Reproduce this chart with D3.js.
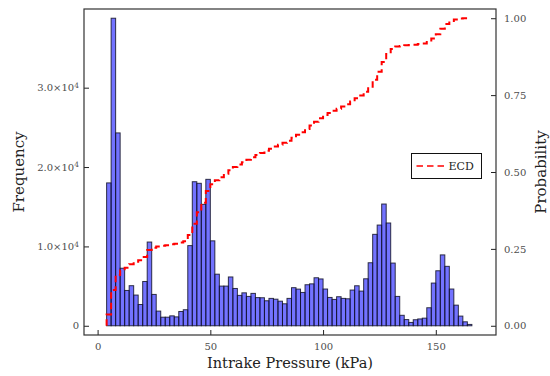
<!DOCTYPE html>
<html>
<head>
<meta charset="utf-8">
<script src="https://cdn.jsdelivr.net/npm/d3@7"></script>
<style>
  body { margin: 0; background: #fff; }
</style>
</head>
<body>
<div id="chart"></div>
<script>
// histogram bins (lower edge, kPa), bin width 2 kPa
const binStart = [4, 6, 8, 10, 12, 14, 16, 18, 20, 22, 24, 26, 28, 30, 32, 34, 36, 38, 40, 42,
    44, 46, 48, 50, 52, 54, 56, 58, 60, 62, 64, 66, 68, 70, 72, 74, 76, 78, 80, 82,
    84, 86, 88, 90, 92, 94, 96, 98, 100, 102, 104, 106, 108, 110, 112, 114, 116, 118, 120, 122,
    124, 126, 128, 130, 132, 134, 136, 138, 140, 142, 144, 146, 148, 150, 152, 154, 156, 158, 160, 162, 164];
const binWidth = 2;

// frequency per bin
const counts = [18000, 38750, 24300, 7250, 4450, 5050, 3870, 2680, 5580, 10550,
    3950, 1850, 1080, 1080, 1250, 1120, 1800, 2020, 10100, 18150,
    17950, 15300, 18450, 10700, 6500, 5000, 5000, 6150, 4700, 3830,
    4150, 3700, 4080, 3550, 3530, 3150, 3450, 3350, 3100, 2770,
    3450, 4800, 4620, 4200, 5170, 5280, 6050, 5900, 4630, 3570,
    3320, 3660, 3450, 3400, 4500, 5040, 4370, 5920, 7940, 11520,
    12690, 15340, 12950, 7900, 3700, 1320, 780, 420, 760, 860,
    960, 2270, 5380, 6930, 8930, 7490, 4630, 2600, 1220, 500, 170];

// empirical cumulative distribution, value after each step at binStart
const ecdf = [0.037, 0.116, 0.165, 0.180, 0.189, 0.200, 0.208, 0.213, 0.224, 0.246,
    0.254, 0.258, 0.260, 0.262, 0.265, 0.267, 0.271, 0.275, 0.295, 0.332,
    0.369, 0.400, 0.438, 0.460, 0.473, 0.483, 0.494, 0.506, 0.516, 0.524,
    0.532, 0.540, 0.548, 0.555, 0.562, 0.569, 0.576, 0.583, 0.589, 0.595,
    0.602, 0.611, 0.621, 0.629, 0.640, 0.651, 0.663, 0.675, 0.685, 0.692,
    0.699, 0.706, 0.713, 0.720, 0.729, 0.740, 0.749, 0.761, 0.777, 0.800,
    0.826, 0.858, 0.884, 0.900, 0.908, 0.910, 0.912, 0.913, 0.914, 0.916,
    0.918, 0.923, 0.934, 0.948, 0.966, 0.981, 0.991, 0.996, 0.999, 1.000, 1.000];

const xTicks = [0, 50, 100, 150];
const freqTicks = [0, 10000, 20000, 30000];
const freqLabels = [["0", ""], ["1.0×10", "4"], ["2.0×10", "4"], ["3.0×10", "4"]];
const probTicks = [0, 0.25, 0.5, 0.75, 1];

const width = 550, height = 376;
const plot = { left: 84, right: 496, top: 9, bottom: 335 };
const serif = "DejaVu Serif";

const svg = d3.select("#chart").append("svg")
    .attr("width", width)
    .attr("height", height)
    .attr("font-family", serif);

const maxCount = d3.max(counts);

const x = d3.scaleLinear().domain([-6.03, 176.7]).range([plot.left, plot.right]);
const yFreq = d3.scaleLinear().domain([-0.03 * maxCount, 1.03 * maxCount]).range([plot.bottom, plot.top]);
const yProb = d3.scaleLinear().domain([-0.03, 1.03]).range([plot.bottom, plot.top]);

// bars
svg.append("g")
    .selectAll("rect")
    .data(counts)
    .join("rect")
    .attr("x", (d, i) => x(binStart[i]))
    .attr("width", (d, i) => x(binStart[i] + binWidth) - x(binStart[i]))
    .attr("y", d => yFreq(d))
    .attr("height", d => yFreq(0) - yFreq(d))
    .attr("fill", "rgba(0,0,255,0.55)")
    .attr("stroke", "rgba(20,20,40,0.85)")
    .attr("stroke-width", 1);

// ecdf step line
const ecdfPts = [[binStart[0], 0]].concat(binStart.map((b, i) => [b, ecdf[i]]));
svg.append("path")
    .datum(ecdfPts)
    .attr("fill", "none")
    .attr("stroke", "#ff0000")
    .attr("stroke-width", 2)
    .attr("stroke-dasharray", "6.5,4")
    .attr("d", d3.line()
        .x(d => x(d[0]))
        .y(d => yProb(d[1]))
        .curve(d3.curveStepAfter));

// axes
const gx = svg.append("g")
    .attr("transform", `translate(0,${plot.bottom})`)
    .call(d3.axisBottom(x).tickValues(xTicks).tickSizeInner(-5).tickSizeOuter(0).tickPadding(8));

const gl = svg.append("g")
    .attr("transform", `translate(${plot.left},0)`)
    .call(d3.axisLeft(yFreq).tickValues(freqTicks).tickSizeInner(-5).tickSizeOuter(0).tickPadding(5));

gl.selectAll(".tick text").each(function (d, i) {
    const t = d3.select(this).text(null);
    t.append("tspan").text(freqLabels[i][0]);
    if (freqLabels[i][1]) {
        t.append("tspan").attr("dy", "-0.45em").attr("font-size", 7.5).text(freqLabels[i][1]);
    }
});

const gr = svg.append("g")
    .attr("transform", `translate(${plot.right},0)`)
    .call(d3.axisRight(yProb).tickValues(probTicks).tickFormat(d3.format(".2f"))
        .tickSizeInner(-5).tickSizeOuter(0).tickPadding(8));

[gx, gl, gr].forEach(g => {
    g.attr("font-family", serif);
    g.select(".domain").remove();
    g.selectAll(".tick line").attr("stroke", "#222");
    g.selectAll(".tick text")
        .attr("fill", "#4d4d4d")
        .attr("font-size", 10);
});

// frame
svg.append("rect")
    .attr("x", plot.left)
    .attr("y", plot.top)
    .attr("width", plot.right - plot.left)
    .attr("height", plot.bottom - plot.top)
    .attr("fill", "none")
    .attr("stroke", "#333")
    .attr("stroke-width", 1.2);

// axis titles
svg.append("text")
    .attr("x", 290)
    .attr("y", 368)
    .attr("text-anchor", "middle")
    .attr("font-size", 14.5)
    .attr("fill", "#222")
    .text("Intrake Pressure (kPa)");

svg.append("text")
    .attr("transform", `translate(24,172) rotate(-90)`)
    .attr("text-anchor", "middle")
    .attr("font-size", 15)
    .attr("fill", "#222")
    .text("Frequency");

svg.append("text")
    .attr("transform", `translate(546,172) rotate(-90)`)
    .attr("text-anchor", "middle")
    .attr("font-size", 15)
    .attr("fill", "#222")
    .text("Probability");

// legend
const lg = svg.append("g").attr("transform", "translate(411.5,153.5)");
lg.append("rect")
    .attr("width", 70)
    .attr("height", 25)
    .attr("fill", "#fff")
    .attr("stroke", "#111")
    .attr("stroke-width", 1);
lg.append("line")
    .attr("x1", 5).attr("x2", 33)
    .attr("y1", 12.5).attr("y2", 12.5)
    .attr("stroke", "#ff0000")
    .attr("stroke-width", 1.6)
    .attr("stroke-dasharray", "6.5,4");
lg.append("text")
    .attr("x", 37)
    .attr("y", 16.5)
    .attr("font-size", 11)
    .attr("fill", "#222")
    .text("ECD");
</script>
</body>
</html>
